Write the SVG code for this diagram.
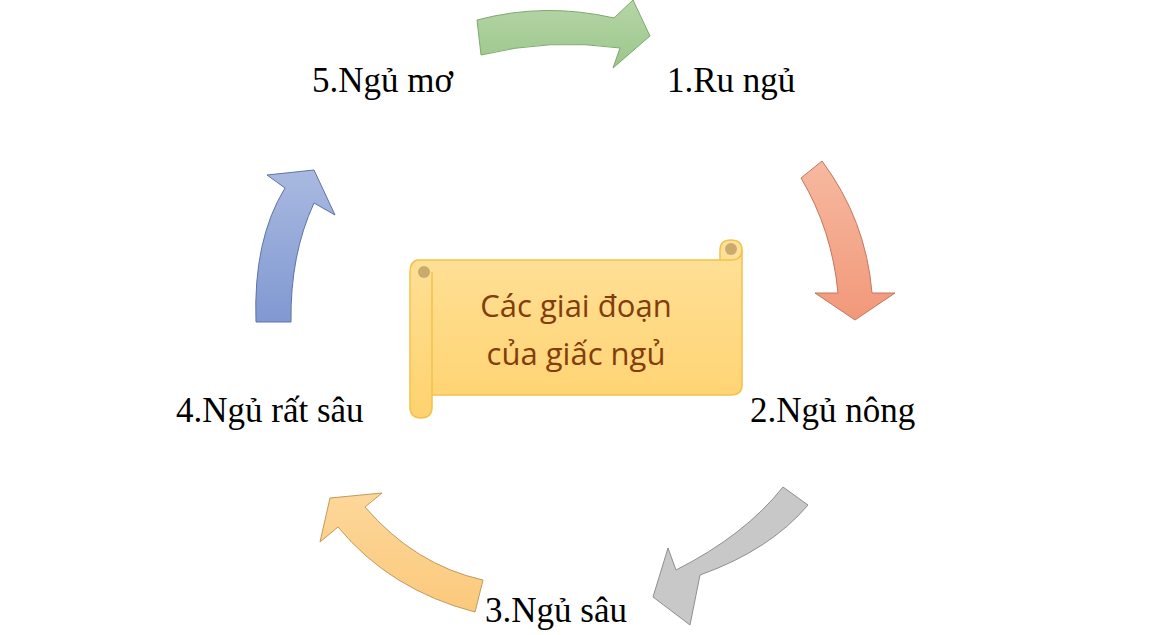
<svg xmlns="http://www.w3.org/2000/svg" width="1150" height="635" viewBox="0 0 1150 635">
<defs>
<linearGradient id="gG" x1="0" y1="0" x2="0" y2="1"><stop offset="0" stop-color="#b5d6a7"/><stop offset="1" stop-color="#9cc68a"/></linearGradient>
<linearGradient id="gS" x1="0" y1="0" x2="0" y2="1"><stop offset="0" stop-color="#f6b9a0"/><stop offset="1" stop-color="#f2987a"/></linearGradient>
<linearGradient id="gB" x1="0" y1="0" x2="0" y2="1"><stop offset="0" stop-color="#a9b9e0"/><stop offset="1" stop-color="#8099d2"/></linearGradient>
<linearGradient id="gY" x1="0" y1="0" x2="0" y2="1"><stop offset="0" stop-color="#fdd79a"/><stop offset="1" stop-color="#fbc97c"/></linearGradient>
<linearGradient id="gR" x1="0" y1="0" x2="0" y2="1"><stop offset="0" stop-color="#ffe19a"/><stop offset="1" stop-color="#ffd26e"/></linearGradient>
</defs>
<style>
.arr{stroke-width:1;stroke-linejoin:miter}
.lbl{font-family:"Liberation Serif",serif;font-size:35px;fill:#000}
.ctr{font-family:"Open Sans","Noto Sans",sans-serif;font-size:31px;fill:#843c0c;text-anchor:middle}
</style>
<g id="connectors">
<path class="arr" fill="url(#gG)" stroke="#7fa86e" d="M477,20 Q545,2 614,18 L633,0 L650,36 L613,68 L620,48 Q550,38 481,55 Z"/>
<path class="arr" fill="url(#gS)" stroke="#c4775d" d="M822,161 Q866,220 872,293 L895,293 L855,320 L815,293 L838,293 Q832,230 801,178 Z"/>
<path class="arr" fill="#c8c8c8" stroke="#8f8f8f" d="M808,505 Q770,550 700,575 L690,625 L653,597 L668,548 L676,570 Q745,535 783,487 Z"/>
<path class="arr" fill="url(#gY)" stroke="#c09a5a" d="M475,612 Q390,590 338,527 L320,542 L330,498 L382,493 L365,507 Q415,565 483,580 Z"/>
<path class="arr" fill="url(#gB)" stroke="#5f73a8" d="M256,322 Q253,240 285,188 L267,175 L314,170 L335,215 L314,203 Q290,255 291,322 Z"/>
</g>
<g id="center">
<path d="M417,260 L720,260 L720,250 Q720,240 731,240 Q742,240 742,250 L742,385 Q742,395 731,395 L432,395 L432,407 Q432,418 421,418 Q410,418 410,407 L410,272 Q410,262 417,260 Z" fill="url(#gR)" stroke="#f2c24a" stroke-width="1.5"/>
<path d="M720,260 L731,260 Q742,260 742,250" fill="none" stroke="#f2c24a" stroke-width="1.5"/>
<circle cx="731" cy="249" r="6" fill="#c9ab6e"/>
<circle cx="424" cy="272" r="6" fill="#c9ab6e"/>
<path d="M432,272 L432,395" fill="none" stroke="#f2c24a" stroke-width="1.5"/>
<text class="ctr" x="576" y="317">Các giai đoạn</text>
<text class="ctr" x="576" y="365">của giấc ngủ</text>
</g>
<g id="n1"><text class="lbl" x="667" y="92">1.Ru ngủ</text></g>
<g id="n2"><text class="lbl" x="750" y="422">2.Ngủ nông</text></g>
<g id="n3"><text class="lbl" x="485" y="622">3.Ngủ sâu</text></g>
<g id="n4"><text class="lbl" x="176" y="422">4.Ngủ rất sâu</text></g>
<g id="n5"><text class="lbl" x="312" y="92">5.Ngủ mơ</text></g>
</svg>
